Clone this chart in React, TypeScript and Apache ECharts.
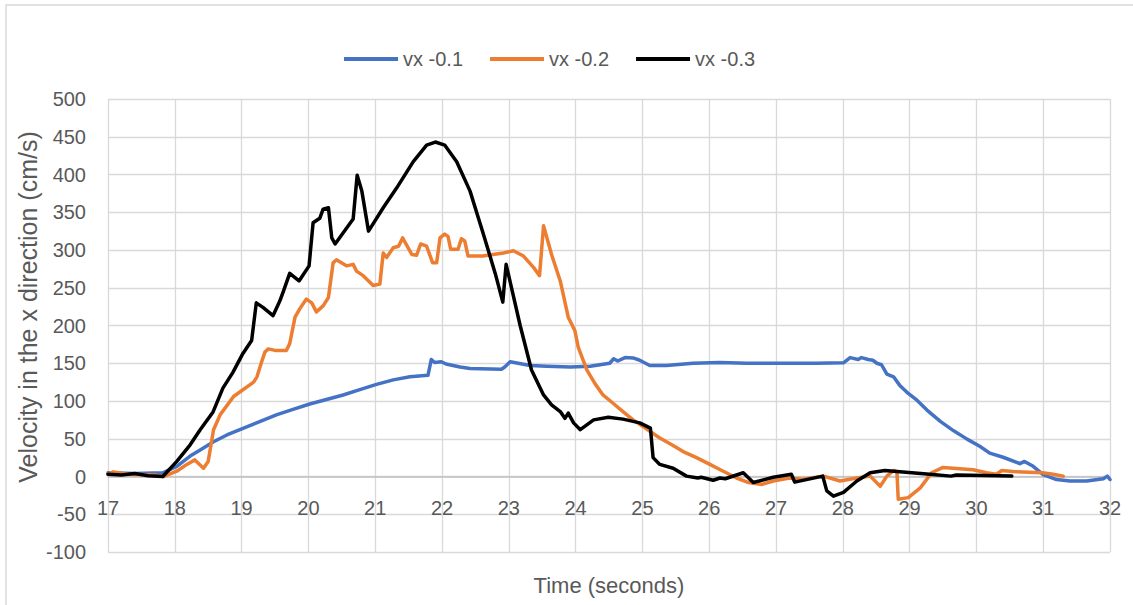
import React, { useEffect, useRef } from "react";
import * as echarts from "echarts";

const seriesNames = ["vx -0.1", "vx -0.2", "vx -0.3"];
const seriesColors = ["#4472C4", "#ED7D31", "#000000"];

const blueT = [17.0, 17.4, 17.82, 18.03, 18.23, 18.38, 18.58, 18.78, 19.03, 19.28, 19.53, 19.77, 20.02, 20.27, 20.52, 20.77, 21.02, 21.27, 21.52, 21.79, 21.84, 21.89, 21.99, 22.06, 22.27, 22.42, 22.89, 22.94, 23.02, 23.32, 23.57, 23.92, 24.22, 24.51, 24.57, 24.63, 24.74, 24.86, 24.96, 25.11, 25.36, 25.76, 26.16, 26.56, 27.06, 27.6, 28.01, 28.11, 28.23, 28.28, 28.38, 28.45, 28.51, 28.58, 28.66, 28.76, 28.85, 28.98, 29.11, 29.26, 29.46, 29.66, 29.86, 30.05, 30.2, 30.4, 30.65, 30.72, 30.85, 31.0, 31.2, 31.4, 31.65, 31.9, 31.96, 32.0];
const blueV = [5, 4, 5, 13.5, 27, 35, 46, 55, 64, 73, 82, 89, 96, 102, 108, 115, 122, 128, 132, 134, 155, 151, 152, 149, 145, 143, 142, 145, 152, 147, 146, 145, 146, 150, 156, 153, 157.5, 157, 154, 147, 147, 150, 151, 150, 150, 150, 150.5, 157.5, 155, 157.5, 155, 154, 150, 148, 135.5, 132, 121, 110, 101, 88, 73, 60.5, 49.5, 40, 31, 25.5, 17, 20, 13.5, 2.5, -4, -6, -6, -3, 0.5, -4];

const orangeT = [17.0, 17.08, 17.3, 17.7, 17.83, 18.03, 18.18, 18.3, 18.43, 18.5, 18.58, 18.68, 18.88, 19.18, 19.23, 19.3, 19.35, 19.4, 19.5, 19.67, 19.72, 19.8, 19.87, 19.97, 20.05, 20.12, 20.22, 20.3, 20.37, 20.42, 20.57, 20.67, 20.72, 20.82, 20.97, 21.07, 21.12, 21.17, 21.27, 21.35, 21.41, 21.55, 21.62, 21.68, 21.77, 21.86, 21.92, 21.97, 22.04, 22.09, 22.13, 22.24, 22.29, 22.34, 22.39, 22.61, 22.92, 23.07, 23.22, 23.37, 23.46, 23.52, 23.64, 23.77, 23.89, 23.99, 24.04, 24.17, 24.29, 24.41, 24.56, 24.71, 24.86, 25.01, 25.26, 25.44, 25.61, 25.81, 26.01, 26.21, 26.41, 26.59, 26.79, 26.96, 27.2, 27.4, 27.71, 27.96, 28.21, 28.41, 28.56, 28.66, 28.76, 28.81, 28.83, 28.98, 29.16, 29.33, 29.5, 29.65, 29.95, 30.15, 30.3, 30.38, 30.55, 30.99, 31.15, 31.3];
const orangeV = [3, 6, 3, 2, 0, 7, 16, 22, 11, 20, 62, 82, 106, 125, 132, 152, 165, 169, 167, 167, 176, 211, 222, 235, 230, 218, 226, 237, 283, 287, 279, 281, 272, 266, 253, 255, 296, 290, 303, 305, 316, 294, 293, 308, 305, 283, 283, 316, 321, 318, 301, 301, 315, 312, 292, 292, 296, 299, 292, 277, 266, 332, 294, 259, 211, 193, 171, 141, 123, 108, 97, 86, 75, 66, 51, 42, 33, 25, 16, 7, -2, -8, -10.5, -6, -2, -3.5, 0.5, -6, -2, 0.5, -13, 0.5, 8, 6.5, -30, -28, -15, 5, 12, 11, 9, 5, 3, 8, 6.5, 5, 3, 0.5];

const blackT = [17.0, 17.2, 17.4, 17.6, 17.82, 18.03, 18.23, 18.38, 18.57, 18.72, 18.87, 19.02, 19.15, 19.22, 19.32, 19.47, 19.57, 19.62, 19.72, 19.86, 20.01, 20.07, 20.17, 20.22, 20.3, 20.35, 20.4, 20.67, 20.73, 20.8, 20.9, 21.12, 21.32, 21.57, 21.77, 21.9, 22.04, 22.22, 22.42, 22.62, 22.8, 22.91, 22.96, 23.17, 23.34, 23.52, 23.64, 23.77, 23.84, 23.89, 23.97, 24.07, 24.27, 24.49, 24.71, 24.96, 25.12, 25.16, 25.26, 25.46, 25.66, 25.83, 25.88, 26.06, 26.16, 26.24, 26.51, 26.66, 26.96, 27.23, 27.28, 27.7, 27.76, 27.86, 28.01, 28.21, 28.41, 28.63, 28.9, 29.3, 29.62, 29.7, 30.53];
const blackV = [3, 2, 4, 1, 0, 20, 42, 62, 85, 117, 138, 163, 180, 230, 224, 213, 232, 244, 269, 259, 279, 336, 342, 354, 356, 316, 308, 341, 399, 378, 325, 356, 382, 417, 439, 443, 439, 417, 378, 321, 268, 231, 281, 200, 141, 108, 95, 86, 77, 84, 71, 62, 75, 78.5, 76, 71, 64, 25, 16, 11, 0.5, -2, -1, -5, -2, -3, 5, -8, -1, 3, -7.5, 0.5, -19, -26, -21, -6, 5, 8, 6, 3, 0.5, 2, 0.5];

const xTitle = "Time (seconds)";
const yTitle = "Velocity in the x direction (cm/s)";

const FONT = "'Liberation Sans', Arial, sans-serif";
const TEXT = "#595959";

function zip(t: number[], v: number[]) {
  return t.map((x, i) => [x, v[i]]);
}

export default function App() {
  const ref = useRef<HTMLDivElement>(null);
  useEffect(() => {
    if (!ref.current) return;
    const chart = echarts.init(ref.current, undefined, { renderer: "svg" });
    const datasets = [zip(blueT, blueV), zip(orangeT, orangeV), zip(blackT, blackV)];
    const gridTop = 99;
    const gridBottom = 53;
    const plotH = 605 - gridTop - gridBottom;
    const yMin = -100;
    const yMax = 500;
    const zeroOffset = -(plotH * (0 - yMin)) / (yMax - yMin);
    chart.setOption({
      animation: false,
      backgroundColor: "#ffffff",
      textStyle: { fontFamily: FONT },
      grid: { left: 108, right: 23, top: gridTop, bottom: gridBottom, containLabel: false },
      legend: {
        left: 339,
        top: 44,
        icon: "rect",
        itemWidth: 54,
        itemHeight: 4,
        itemGap: 27,
        textStyle: { color: TEXT, fontSize: 20, fontFamily: FONT },
        data: seriesNames,
      },
      xAxis: {
        type: "value",
        min: 17,
        max: 32,
        interval: 1,
        position: "bottom",
        offset: zeroOffset,
        axisLine: { show: true, onZero: false, lineStyle: { color: "#bfbfbf", width: 1.5 } },
        axisTick: { show: false },
        axisLabel: { color: TEXT, fontSize: 20, margin: 21, fontFamily: FONT },
        splitLine: { show: true, lineStyle: { color: "#d9d9d9", width: 1.3 } },
      },
      yAxis: {
        type: "value",
        min: yMin,
        max: yMax,
        interval: 50,
        axisLine: { show: false },
        axisTick: { show: false },
        axisLabel: { color: TEXT, fontSize: 20, margin: 22, fontFamily: FONT },
        splitLine: { show: true, lineStyle: { color: "#d9d9d9", width: 1.3 } },
      },
      series: seriesNames.map((name, i) => ({
        name,
        type: "line",
        data: datasets[i],
        showSymbol: false,
        symbol: "none",
        color: seriesColors[i],
        lineStyle: { color: seriesColors[i], width: 3.5, join: "round", cap: "round" },
        z: 2 + i,
      })),
      graphic: [
        {
          type: "rect",
          shape: { x: 6, y: 5, width: 1140, height: 620 },
          style: { fill: "none", stroke: "#d9d9d9", lineWidth: 1.5 },
          silent: true,
        },
        {
          type: "text",
          x: 28,
          y: 307,
          rotation: Math.PI / 2,
          style: {
            text: yTitle,
            fill: TEXT,
            fontSize: 25,
            fontFamily: FONT,
            textAlign: "center",
            textVerticalAlign: "middle",
          },
        },
        {
          type: "text",
          x: 609,
          y: 585,
          style: {
            text: xTitle,
            fill: TEXT,
            fontSize: 22,
            fontFamily: FONT,
            textAlign: "center",
            textVerticalAlign: "middle",
          },
        },
      ],
    });
    return () => chart.dispose();
  }, []);
  return (
    <div
      ref={ref}
      style={{ position: "absolute", left: 0, top: 0, width: 1133, height: 605 }}
    />
  );
}
